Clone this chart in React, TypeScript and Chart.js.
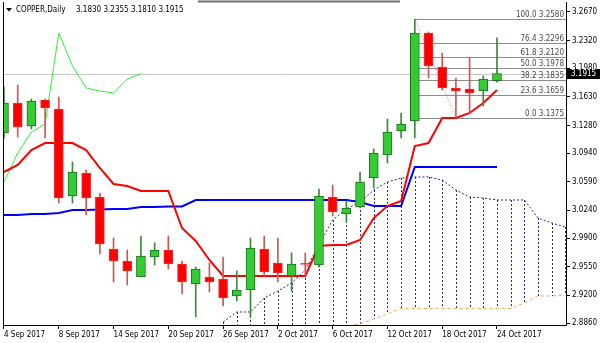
import React, { useEffect, useRef } from 'react';
import { Chart, registerables } from 'chart.js';
Chart.register(...registerables);

// ---- data (COPPER, Daily, 4 Sep 2017 .. 24 Oct 2017) ----
const opens = [3.1188, 3.1555, 3.1273, 3.1592, 3.1482, 3.0416, 3.0698, 3.0404, 2.9767, 2.9620, 2.9424, 2.9669, 2.9754, 2.9583, 2.9338, 2.9424, 2.9399, 2.9191, 2.9264, 2.9767, 2.9595, 2.9436, 2.9590, 2.9571, 3.0404, 3.0195, 3.0281, 3.0636, 3.0918, 3.1212, 3.1335, 3.2413, 3.1996, 3.1739, 3.1727, 3.1702, 3.1830];
const highs = [3.1751, 3.1776, 3.1604, 3.1604, 3.1629, 3.0832, 3.0734, 3.0453, 2.9901, 2.9754, 2.9926, 2.9840, 2.9926, 2.9620, 2.9546, 2.9595, 2.9669, 2.9497, 2.9901, 2.9926, 2.9901, 2.9718, 2.9718, 3.0502, 3.0551, 3.0355, 3.0710, 3.0992, 3.1359, 3.1433, 3.2580, 3.2425, 3.2168, 3.1861, 3.2106, 3.1886, 3.2355];
const lows = [3.1126, 3.1139, 3.1237, 3.1126, 3.0330, 3.0330, 3.0183, 2.9705, 2.9362, 2.9326, 2.9424, 2.9571, 2.9522, 2.9215, 2.8934, 2.9240, 2.9068, 2.9130, 2.8934, 2.9436, 2.9362, 2.9252, 2.9448, 2.9546, 3.0171, 3.0097, 3.0269, 3.0514, 3.0820, 3.1126, 3.1126, 3.1861, 3.1714, 3.1375, 3.1420, 3.1518, 3.1810];
const closes = [3.1555, 3.1261, 3.1580, 3.1494, 3.0391, 3.0710, 3.0391, 2.9828, 2.9620, 2.9497, 2.9681, 2.9754, 2.9583, 2.9362, 2.9522, 2.9362, 2.9166, 2.9264, 2.9779, 2.9485, 2.9473, 2.9583, 2.9578, 3.0416, 3.0220, 3.0269, 3.0587, 3.0943, 3.1200, 3.1298, 3.2413, 3.2008, 3.1739, 3.1702, 3.1678, 3.1849, 3.1915];

const tenkan = [3.0710, 3.0796, 3.0979, 3.1065, 3.1065, 3.1065, 3.0979, 3.0759, 3.0563, 3.0538, 3.0477, 3.0477, 3.0477, 3.0024, 2.9865, 2.9632, 2.9436, 2.9436, 2.9436, 2.9436, 2.9436, 2.9436, 2.9436, 2.9803, 2.9816, 2.9816, 2.9877, 3.0146, 3.0293, 3.0355, 3.1028, 3.1065, 3.1371, 3.1371, 3.1433, 3.1555, 3.1714];
const kijun = [3.0183, 3.0183, 3.0195, 3.0195, 3.0207, 3.0244, 3.0244, 3.0250, 3.0256, 3.0256, 3.0281, 3.0281, 3.0287, 3.0287, 3.0367, 3.0367, 3.0367, 3.0367, 3.0367, 3.0367, 3.0367, 3.0367, 3.0367, 3.0367, 3.0367, 3.0367, 3.0342, 3.0293, 3.0293, 3.0293, 3.0771, 3.0771, 3.0771, 3.0771, 3.0771, 3.0771, 3.0771];
const chikouShift = 26;

const spanStart = 16;
const spanA = [2.8872, 2.8995, 2.8995, 2.9166, 2.9252, 2.9350, 2.9509, 2.9816, 3.0122, 3.0257, 3.0342, 3.0489, 3.0587, 3.0636, 3.0649, 3.0649, 3.0612, 3.0489, 3.0404, 3.0391, 3.0367, 3.0367, 3.0367, 3.0146, 3.0085, 3.0036];
const spanB = [2.8780, 2.8780, 2.8780, 2.8780, 2.8780, 2.8780, 2.8780, 2.8780, 2.8780, 2.8820, 2.8850, 2.8909, 2.8970, 2.9040, 2.9040, 2.9040, 2.9040, 2.9040, 2.9040, 2.9040, 2.9040, 2.9040, 2.9105, 2.9191, 2.9191, 2.9203];

const xTickIndex = [0, 4, 8, 12, 16, 20, 24, 28, 32, 36];
const xTickLabels = ['4 Sep 2017', '8 Sep 2017', '14 Sep 2017', '20 Sep 2017', '26 Sep 2017', '2 Oct 2017', '6 Oct 2017', '12 Oct 2017', '18 Oct 2017', '24 Oct 2017'];
const yTickValues = [3.2670, 3.2320, 3.1980, 3.1630, 3.1280, 3.0940, 3.0590, 3.0240, 2.9900, 2.9550, 2.9200, 2.8860];

const fibRatios = ['0.0', '23.6', '38.2', '50.0', '61.8', '76.4', '100.0'];
const fibPrices = [3.1375, 3.1659, 3.1835, 3.1978, 3.2120, 3.2296, 3.2580];
const fibStartIndex = 30;
const fibEndIndex = 33;

const symbolTitle = 'COPPER,Daily';

const FONT = '"DejaVu Sans Condensed", "Liberation Sans", Arial, sans-serif';
const FSIZE = 8;
const UP_FILL = '#33CC33';
const UP_EDGE = '#1E701E';
const UP_WICK = '#3A8A3A';
const DN_FILL = '#FF0000';
const DN_EDGE = '#F03030';
const DN_WICK = '#D05555';

const overlayPlugin = {
  id: 'mtOverlay',
  beforeDatasetsDraw(chart: any) {
    const { ctx, chartArea: a, scales } = chart;
    const x = scales.x, y = scales.y;
    ctx.save();
    ctx.beginPath();
    ctx.rect(a.left, a.top, a.right - a.left, a.bottom - a.top);
    ctx.clip();
    // cloud hatching
    ctx.strokeStyle = '#2A2A86';
    ctx.lineWidth = 1;
    ctx.setLineDash([2, 2]);
    spanA.forEach((va, k) => {
      const px = Math.round(x.getPixelForValue(spanStart + k)) + 0.5;
      ctx.beginPath();
      ctx.moveTo(px, y.getPixelForValue(va));
      ctx.lineTo(px, y.getPixelForValue(spanB[k]));
      ctx.stroke();
    });
    ctx.setLineDash([]);
    // current price line
    const last = closes[closes.length - 1];
    const py = Math.round(y.getPixelForValue(last)) + 0.5;
    ctx.strokeStyle = '#C8C8C8';
    ctx.beginPath();
    ctx.moveTo(a.left, py);
    ctx.lineTo(a.right, py);
    ctx.stroke();
    // fibonacci levels
    const fx = x.getPixelForValue(fibStartIndex);
    ctx.strokeStyle = '#8C8C8C';
    ctx.fillStyle = '#4A4A4A';
    ctx.font = `${FSIZE}px ${FONT}`;
    ctx.textAlign = 'right';
    ctx.textBaseline = 'bottom';
    fibPrices.forEach((p, k) => {
      const ly = Math.round(y.getPixelForValue(p)) + 0.5;
      ctx.beginPath();
      ctx.moveTo(fx, ly);
      ctx.lineTo(a.right, ly);
      ctx.stroke();
      ctx.fillText(`${fibRatios[k]} ${p.toFixed(4)}`, a.right - 2, ly - 1);
    });
    ctx.restore();
  },
  afterDraw(chart: any) {
    const { ctx, chartArea: a, scales } = chart;
    const y = scales.y;
    ctx.save();
    // left frame
    ctx.strokeStyle = '#000';
    ctx.lineWidth = 1;
    ctx.beginPath();
    ctx.moveTo(Math.round(a.left) + 0.5, a.top);
    ctx.lineTo(Math.round(a.left) + 0.5, a.bottom);
    ctx.stroke();
    // top bar segment
    ctx.strokeStyle = '#707070';
    ctx.lineWidth = 2;
    ctx.beginPath();
    ctx.moveTo(198, 1.5);
    ctx.lineTo(400, 1.5);
    ctx.stroke();
    // title
    ctx.fillStyle = '#000';
    ctx.beginPath();
    ctx.moveTo(6, 8);
    ctx.lineTo(12, 8);
    ctx.lineTo(9, 11.5);
    ctx.closePath();
    ctx.fill();
    ctx.font = `${FSIZE}px ${FONT}`;
    ctx.textAlign = 'left';
    ctx.textBaseline = 'alphabetic';
    ctx.fillText(symbolTitle, 16, 12);
    const li = closes.length - 1;
    ctx.fillText(`${opens[li].toFixed(4)} ${highs[li].toFixed(4)} ${lows[li].toFixed(4)} ${closes[li].toFixed(4)}`, 76, 12);
    // price box
    const last = closes[li];
    const py = y.getPixelForValue(last);
    ctx.fillStyle = '#000';
    ctx.fillRect(a.right, Math.round(py) - 5, chart.width - a.right, 10);
    ctx.fillStyle = '#fff';
    ctx.textBaseline = 'middle';
    ctx.fillText(last.toFixed(4), a.right + 5, Math.round(py));
    ctx.restore();
  },
};

export default function App() {
  const ref = useRef<HTMLCanvasElement>(null);
  useEffect(() => {
    if (!ref.current) return;
    const up = closes.map((c, i) => c >= opens[i]);
    const chart = new Chart(ref.current, {
      type: 'bar',
      data: {
        datasets: [
          {
            type: 'bar',
            label: 'body',
            data: closes.map((c, i) => ({ x: i, y: [opens[i], c] })),
            backgroundColor: up.map(u => (u ? UP_FILL : DN_FILL)),
            borderColor: up.map(u => (u ? UP_EDGE : DN_EDGE)),
            borderWidth: 1,
            borderSkipped: false,
            barThickness: 9,
            grouped: false,
            order: 0,
          } as any,
          {
            type: 'bar',
            label: 'wick',
            data: highs.map((h, i) => ({ x: i, y: [lows[i], h] })),
            backgroundColor: up.map(u => (u ? UP_WICK : DN_WICK)),
            borderWidth: 0,
            barThickness: 1,
            grouped: false,
            order: 1,
          } as any,
          {
            type: 'line',
            label: 'Tenkan',
            data: tenkan.map((v, i) => ({ x: i, y: v })),
            borderColor: '#FF0000',
            borderWidth: 2,
            pointRadius: 0,
            order: 3,
          } as any,
          {
            type: 'line',
            label: 'Kijun',
            data: kijun.map((v, i) => ({ x: i, y: v })),
            borderColor: '#0000FF',
            borderWidth: 2,
            pointRadius: 0,
            order: 3,
          } as any,
          {
            type: 'line',
            label: 'Chikou',
            data: closes.slice(chikouShift).map((v, k) => ({ x: k, y: v })),
            borderColor: '#33EE33',
            borderWidth: 1,
            pointRadius: 0,
            order: 3,
          } as any,
          {
            type: 'line',
            label: 'SpanA',
            data: spanA.map((v, k) => ({ x: spanStart + k, y: v })),
            borderColor: '#2A2A86',
            borderWidth: 1,
            borderDash: [2, 2],
            pointRadius: 0,
            order: 4,
          } as any,
          {
            type: 'line',
            label: 'SpanB',
            data: spanB.map((v, k) => ({ x: spanStart + k, y: v })),
            borderColor: '#FFA040',
            borderWidth: 1,
            borderDash: [3, 3],
            pointRadius: 0,
            order: 4,
          } as any,
          {
            type: 'line',
            label: 'FiboTrend',
            data: [
              { x: fibStartIndex, y: fibPrices[fibPrices.length - 1] },
              { x: fibEndIndex, y: fibPrices[0] },
            ],
            borderColor: '#8C8C8C',
            borderWidth: 1,
            borderDash: [1, 2],
            pointRadius: 0,
            order: 5,
          } as any,
        ],
      },
      options: {
        responsive: false,
        animation: false,
        devicePixelRatio: 1,
        layout: { padding: { left: 3, top: 2, right: 0, bottom: 0 } },
        plugins: { legend: { display: false }, tooltip: { enabled: false }, title: { display: false } },
        scales: {
          x: {
            type: 'linear',
            min: -0.073,
            max: 41.04,
            offset: false,
            afterBuildTicks: (s: any) => {
              s.ticks = xTickIndex.map(v => ({ value: v }));
            },
            afterFit: (s: any) => {
              s.height = 18;
              s.paddingLeft = 0;
              s.paddingRight = 0;
            },
            ticks: {
              autoSkip: false,
              maxRotation: 0,
              minRotation: 0,
              align: 'start',
              padding: 1,
              color: '#000',
              font: { size: FSIZE, family: FONT },
              callback: (v: any) => {
                const k = xTickIndex.indexOf(v);
                return k >= 0 ? xTickLabels[k] : '';
              },
            },
            grid: { drawOnChartArea: false, drawTicks: true, tickLength: 4, color: '#000', offset: false },
            border: { display: true, color: '#000', width: 1 },
          },
          y: {
            type: 'linear',
            position: 'right',
            min: 2.88356,
            max: 3.27925,
            beginAtZero: false,
            afterBuildTicks: (s: any) => {
              s.ticks = yTickValues.map(v => ({ value: v }));
            },
            afterFit: (s: any) => {
              s.width = 34;
              s.paddingTop = 0;
              s.paddingBottom = 0;
            },
            ticks: {
              autoSkip: false,
              padding: 2,
              color: '#000',
              font: { size: FSIZE, family: FONT },
              callback: (v: any) => Number(v).toFixed(4),
            },
            grid: { drawOnChartArea: false, drawTicks: true, tickLength: 4, color: '#000' },
            border: { display: true, color: '#000', width: 1 },
          },
        },
      } as any,
      plugins: [overlayPlugin],
    });
    return () => chart.destroy();
  }, []);
  return (
    <div style={{ position: 'fixed', left: 0, top: 0, width: 600, height: 343, background: '#fff' }}>
      <canvas ref={ref} width={600} height={343} style={{ display: 'block' }} />
    </div>
  );
}
